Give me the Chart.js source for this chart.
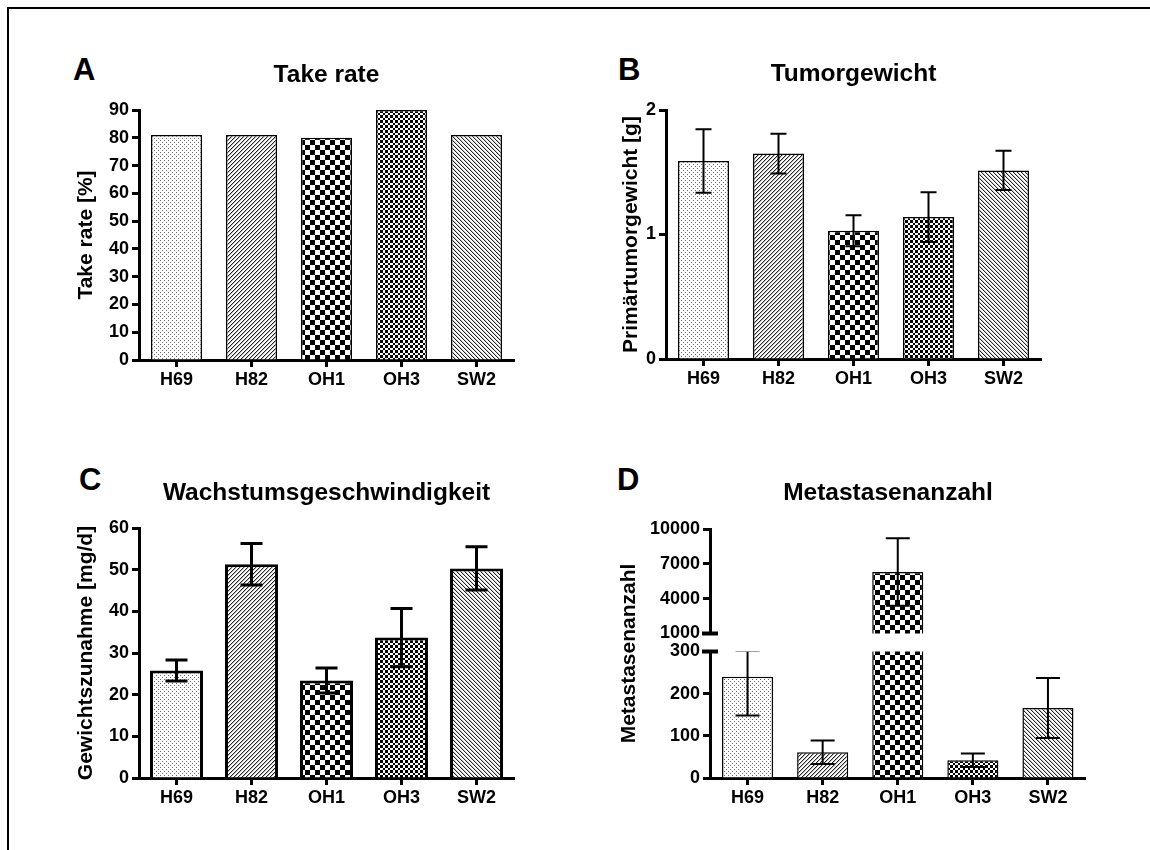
<!DOCTYPE html>
<html><head><meta charset="utf-8">
<script src="https://cdn.jsdelivr.net/npm/chart.js@4.4.1/dist/chart.umd.min.js"></script>
<style>
html,body{margin:0;padding:0;background:#fff;width:1150px;height:850px;overflow:hidden;position:relative;}
#frame{position:absolute;left:7px;top:7px;width:1160px;height:860px;border-top:2px solid #000;border-left:2px solid #000;}
canvas{position:absolute;}
.lbl{position:absolute;font:bold 31px 'Liberation Sans',Arial,sans-serif;line-height:31px;color:#000;}
</style></head><body>
<div id="frame"></div>
<div class="lbl" style="left:73px;top:54px">A</div>
<div class="lbl" style="left:618px;top:54px">B</div>
<div class="lbl" style="left:79px;top:464px">C</div>
<div class="lbl" style="left:617px;top:464px">D</div>
<canvas id="cA" width="470" height="360" style="left:60px;top:40px"></canvas>
<canvas id="cB" width="452" height="359" style="left:605px;top:40px"></canvas>
<canvas id="cC" width="470" height="363" style="left:60px;top:455px"></canvas>
<canvas id="cD" width="576" height="363" style="left:600px;top:455px"></canvas>
<script>
// ---------- data ----------
const categories = ['H69', 'H82', 'OH1', 'OH3', 'SW2'];

const takeRate = [81, 81, 80, 90, 81];
const takeRateTicks = [0, 10, 20, 30, 40, 50, 60, 70, 80, 90];

const tumorWeight = [1.59, 1.65, 1.03, 1.14, 1.515];
const tumorWeightErr = [0.255, 0.16, 0.125, 0.2, 0.158];
const tumorWeightTicks = [0, 1, 2];

const growthRate = [25.8, 51.3, 23.4, 33.7, 50.3];
const growthRateErr = [2.5, 5.0, 3.0, 7.0, 5.2];
const growthRateTicks = [0, 10, 20, 30, 40, 50, 60];

const metastases = [240, 61, 6300, 42, 166];
const metastasesErr = [92, 28, 2900, 16, 71];
const metastasesTicks = [0, 100, 200, 300, 1000, 4000, 7000, 10000];

// ---------- fonts / patterns ----------
Chart.defaults.font.family = "'Liberation Sans', Arial, sans-serif";
Chart.defaults.color = '#000';

function tile(size, painter) {
  const c = document.createElement('canvas');
  c.width = size; c.height = size;
  const g = c.getContext('2d');
  g.fillStyle = '#fff'; g.fillRect(0, 0, size, size);
  painter(g);
  return g.createPattern(c, 'repeat');
}
const patDots = tile(4, g => { g.fillStyle = '#666'; g.fillRect(0, 0, 1, 1); g.fillRect(2, 2, 1, 1); });
const patDiagUp = tile(4, g => {
  for (let i = 0; i < 4; i++) { g.fillStyle = '#222'; g.fillRect(i, 3 - i, 1, 1); g.fillStyle = '#bbb'; g.fillRect((i + 1) % 4, 3 - i, 1, 1); }
});
const patCheckBig = tile(10, g => { g.fillStyle = '#000'; g.fillRect(0, 0, 5, 5); g.fillRect(5, 5, 5, 5); });
const patCheckSmall = tile(10, g => {
  const e = [0, 3, 5, 8, 10]; g.fillStyle = '#000';
  for (let i = 0; i < 4; i++) for (let j = 0; j < 4; j++)
    if ((i + j) % 2 === 0) g.fillRect(e[i], e[j], e[i + 1] - e[i], e[j + 1] - e[j]);
});
const patDiagDown = tile(4, g => {
  for (let i = 0; i < 4; i++) { g.fillStyle = '#222'; g.fillRect(i, i, 1, 1); g.fillStyle = '#ccc'; g.fillRect((i + 1) % 4, i, 1, 1); }
});
const barFills = [patDots, patDiagUp, patCheckBig, patCheckSmall, patDiagDown];

// ---------- broken linear scale (for panel D) ----------
class BrokenLinearScale extends Chart.LinearScale {
  _seg() {
    const o = this.options.breakAxis;
    return {lowMax: o.lowMax, highMin: o.highMin, lowFrac: o.lowFrac, gapFrac: o.gapFrac};
  }
  getPixelForValue(value) {
    if (value === null || value === undefined || isNaN(value)) return NaN;
    const s = this._seg();
    let dec;
    if (value <= s.lowMax) dec = (value - this.min) / (s.lowMax - this.min) * s.lowFrac;
    else if (value < s.highMin) dec = s.lowFrac + (value - s.lowMax) / (s.highMin - s.lowMax) * s.gapFrac;
    else dec = s.lowFrac + s.gapFrac + (value - s.highMin) / (this.max - s.highMin) * (1 - s.lowFrac - s.gapFrac);
    return this.getPixelForDecimal(dec);
  }
  getValueForPixel(pixel) {
    const s = this._seg();
    const dec = this.getDecimalForPixel(pixel);
    if (dec <= s.lowFrac) return this.min + dec / s.lowFrac * (s.lowMax - this.min);
    if (dec < s.lowFrac + s.gapFrac) return s.lowMax + (dec - s.lowFrac) / s.gapFrac * (s.highMin - s.lowMax);
    return s.highMin + (dec - s.lowFrac - s.gapFrac) / (1 - s.lowFrac - s.gapFrac) * (this.max - s.highMin);
  }
}
BrokenLinearScale.id = 'brokenLinear';
BrokenLinearScale.defaults = Chart.LinearScale.defaults;
Chart.register(BrokenLinearScale);

// ---------- plugins ----------
const errorBarPlugin = {
  id: 'errorBars',
  afterDatasetsDraw(chart, args, opts) {
    if (!opts || !opts.errors) return;
    const meta = chart.getDatasetMeta(0);
    const ys = chart.scales.y;
    const data = chart.data.datasets[0].data;
    const errs = opts.errors;
    const a = chart.chartArea;
    const ctx = chart.ctx;
    ctx.save();
    ctx.beginPath(); ctx.rect(a.left, a.top, a.right - a.left, a.bottom - a.top); ctx.clip();
    ctx.strokeStyle = '#000'; ctx.lineWidth = opts.width; ctx.lineCap = 'butt';
    meta.data.forEach((bar, i) => {
      const e = errs[i];
      if (!e) return;
      const x = bar.x;
      const yt = ys.getPixelForValue(data[i] + e);
      const yb = ys.getPixelForValue(data[i] - e);
      const h = opts.capWidth / 2;
      ctx.beginPath();
      ctx.moveTo(x, yt); ctx.lineTo(x, yb);
      ctx.moveTo(x - h, yt); ctx.lineTo(x + h, yt);
      ctx.moveTo(x - h, yb); ctx.lineTo(x + h, yb);
      ctx.stroke();
    });
    ctx.restore();
  }
};
const axisBreakPlugin = {
  id: 'axisBreak',
  afterDraw(chart, args, opts) {
    if (!opts || opts.from === undefined) return;
    const ys = chart.scales.y;
    const a = chart.chartArea;
    const ctx = chart.ctx;
    const yHi = ys.getPixelForValue(opts.to);
    const yLo = ys.getPixelForValue(opts.from);
    ctx.save();
    ctx.fillStyle = '#fff';
    ctx.fillRect(a.left - 3, yHi, a.right - a.left + 3, yLo - yHi);
    ctx.strokeStyle = '#000'; ctx.lineWidth = 4;
    [yHi, yLo].forEach(y => { ctx.beginPath(); ctx.moveTo(a.left - 8, y); ctx.lineTo(a.left + 8, y); ctx.stroke(); });
    ctx.restore();
  }
};
Chart.register(errorBarPlugin, axisBreakPlugin);

// ---------- chart factory ----------
function makeChart(id, cfg) {
  const tickFont = {size: 18, weight: 'bold'};
  const scales = {
    x: {
      type: 'category', offset: true, z: 1,
      grid: {offset: false, drawOnChartArea: false, tickLength: 7, tickWidth: 3, tickColor: '#000'},
      border: {color: '#000', width: 3},
      ticks: {color: '#000', font: tickFont, padding: 2, maxRotation: 0, autoSkip: false},
      afterFit: s => { s.height = 40; }
    },
    y: Object.assign({
      type: cfg.yType || 'linear', min: cfg.yMin, max: cfg.yMax, z: 1,
      grid: {drawOnChartArea: false, tickLength: 7, tickWidth: 3, tickColor: '#000'},
      border: {color: '#000', width: 3},
      ticks: {color: '#000', font: tickFont, padding: 3, autoSkip: false, callback: v => String(v)},
      title: {display: true, text: cfg.yTitle, color: '#000', font: {size: 21, weight: 'bold', lineHeight: 1.2}, padding: {top: cfg.yTitlePad, bottom: 0}},
      afterBuildTicks: s => { s.ticks = cfg.yTicks.map(v => ({value: v})); },
      afterFit: s => { s.width = cfg.yWidth; }
    }, cfg.yExtra || {})
  };
  if (cfg.rightWidth) {
    scales.yPad = {
      type: 'linear', position: 'right', display: true,
      grid: {display: false}, border: {display: false}, ticks: {display: false},
      afterFit: s => { s.width = cfg.rightWidth; }
    };
  }
  return new Chart(document.getElementById(id), {
    type: 'bar',
    data: {
      labels: categories,
      datasets: [{
        data: cfg.values, backgroundColor: barFills, borderColor: '#000',
        borderWidth: cfg.border, borderSkipped: 'start',
        barPercentage: cfg.barPct, categoryPercentage: 1
      }]
    },
    options: {
      responsive: false, animation: false, devicePixelRatio: 1,
      layout: {padding: {left: 0, top: 0, bottom: 0, right: cfg.padRight}},
      plugins: {
        legend: {display: false}, tooltip: {enabled: false},
        title: {display: true, text: cfg.title, fullSize: cfg.fullSize, color: '#000',
                font: {size: 24.5, weight: 'bold', lineHeight: 1.2},
                padding: {top: cfg.tTop, bottom: cfg.tBottom}},
        errorBars: cfg.errors ? {errors: cfg.errors, width: cfg.errWidth, capWidth: cfg.capWidth} : {},
        axisBreak: cfg.axisBreak || {}
      },
      scales: scales
    }
  });
}

makeChart('cA', {
  values: takeRate, title: 'Take rate', yTitle: 'Take rate [%]', yTicks: takeRateTicks,
  yMin: 0, yMax: 90, yWidth: 79, yTitlePad: 13.4, padRight: 16, fullSize: false,
  tTop: 20.3, tBottom: 20.3, border: 1.5, barPct: 0.68
});
makeChart('cB', {
  values: tumorWeight, errors: tumorWeightErr, errWidth: 2, capWidth: 16,
  title: 'Tumorgewicht', yTitle: 'Primärtumorgewicht [g]', yTicks: tumorWeightTicks,
  yMin: 0, yMax: 2, yWidth: 61, yTitlePad: 13.4, padRight: 16, fullSize: false,
  tTop: 19.3, tBottom: 21.3, border: 1.5, barPct: 0.68
});
makeChart('cC', {
  values: growthRate, errors: growthRateErr, errWidth: 3, capWidth: 22,
  title: 'Wachstumsgeschwindigkeit', yTitle: 'Gewichtszunahme [mg/d]', yTicks: growthRateTicks,
  yMin: 0, yMax: 60, yWidth: 79, yTitlePad: 14.1, padRight: 16, fullSize: false,
  tTop: 23.3, tBottom: 20.3, border: 3, barPct: 0.707
});
makeChart('cD', {
  values: metastases, errors: metastasesErr, errWidth: 2, capWidth: 24,
  title: 'Metastasenanzahl', yTitle: 'Metastasenanzahl', yTicks: metastasesTicks,
  yType: 'brokenLinear', yMin: 0, yMax: 10000,
  yExtra: {breakAxis: {lowMax: 300, highMin: 1000, lowFrac: 0.508, gapFrac: 0.0723}},
  axisBreak: {from: 300, to: 1000},
  yWidth: 110, yTitlePad: 16.4, padRight: 0, rightWidth: 90.5, fullSize: true,
  tTop: 23.3, tBottom: 21.3, border: 1.5, barPct: 0.68
});
</script>
</body></html>
